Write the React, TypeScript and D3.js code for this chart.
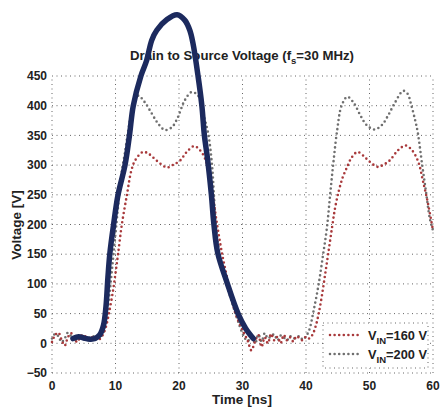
import React from 'react';
import * as d3 from 'd3';

// time [ns], voltage [V]
const vin160: [number, number][] = [
  [0, 2], [0.5, 14], [1, 18], [1.5, 6], [2, -4], [2.5, 10], [3, 17], [3.5, 8], [4, 2], [4.5, 12],
  [5, 14], [5.5, 8], [6, 6], [6.5, 12], [7, 10], [7.5, 7], [8, 14], [8.5, 28], [9, 52], [9.6, 88],
  [10, 118], [10.4, 150], [11, 200], [11.8, 250], [12.5, 291], [13.1, 308], [14.3, 322], [15.1, 320],
  [15.9, 313], [17, 303], [18.1, 296], [19, 300], [20.2, 308], [21.2, 322], [22.4, 332], [23.3, 325],
  [24.1, 311], [24.7, 285], [25.3, 250], [26, 200], [26.8, 150], [27.8, 100], [28.9, 50], [30.1, 20],
  [30.8, 5], [31.4, -12], [32, 4], [32.5, 14], [33, -6], [33.5, 10], [34, 0], [34.5, 16], [35, 5],
  [35.5, 11], [36, 0], [36.5, 14], [37, 5], [37.5, 10], [38, 3], [38.5, 12], [39, 8], [39.5, 5],
  [40, 11], [40.5, 8], [41, 14], [41.5, 28], [42, 50], [42.5, 80], [43, 115], [43.5, 151], [44.1, 195],
  [44.6, 229], [45.2, 258], [45.8, 280], [46.4, 295], [47.2, 313], [48.1, 322], [49, 316], [50.1, 305],
  [51.3, 297], [52.1, 300], [53.2, 308], [54.5, 325], [55.7, 333], [56.7, 325], [57.7, 305],
  [58.4, 274], [59.2, 236], [60, 190],
];

const vin200: [number, number][] = [
  [0, 8], [0.5, 16], [1, 12], [1.5, 2], [2, 8], [2.5, 18], [3, 12], [3.5, 3], [4, 10], [4.5, 14],
  [5, 10], [5.5, 6], [6, 10], [6.5, 12], [7, 9], [7.5, 10], [8, 16], [8.5, 36], [9, 78], [9.5, 130],
  [10, 185], [10.5, 240], [11, 290], [11.5, 322], [12, 358], [12.5, 388], [13.1, 409], [13.6, 417],
  [14.6, 406], [15.7, 387], [16.7, 370], [17.8, 359], [18.9, 364], [19.8, 380], [20.9, 409], [22, 423],
  [23, 417], [23.8, 387], [24.6, 353], [25.2, 300], [25.5, 250], [25.8, 200], [26.4, 150], [27.5, 100],
  [28.9, 50], [30.2, 12], [30.8, 4], [31.5, 10], [32, 0], [32.5, 15], [33, 3], [33.5, 17], [34, 8],
  [34.5, 12], [35, 15], [35.5, 5], [36, 13], [36.5, 10], [37, 5], [37.5, 12], [38, 8], [38.5, 10],
  [39, 12], [39.5, 6], [40, 12], [40.5, 22], [41.2, 55], [42, 100], [42.7, 150], [43.3, 195],
  [43.8, 250], [44.3, 303], [44.9, 358], [45.6, 400], [46.5, 415], [47.5, 405], [48.5, 385],
  [49.5, 368], [50.8, 360], [52, 368], [53, 385], [54, 405], [55.3, 425], [56, 420], [56.6, 400],
  [57.2, 375], [57.6, 355], [58.3, 300], [58.9, 255], [59.5, 210], [60, 190],
];

// hand drawn overlay stroke
const sketch: [number, number][] = [
  [3.3, 8], [4.2, 11], [5, 9], [6, 7], [6.8, 8], [7.5, 14], [8.1, 30], [8.5, 62], [8.8, 110],
  [9.1, 150], [9.7, 200], [10.4, 250], [11.5, 300], [12.2, 350], [12.8, 400], [14.0, 450],
  [14.9, 476], [15.7, 510], [16.5, 527], [18.1, 545], [19.7, 553], [20.9, 544], [21.7, 527],
  [22.2, 505], [23, 450], [23.6, 400], [24.0, 350], [24.5, 310], [25.1, 250], [25.5, 200],
  [26.1, 152], [27.6, 101], [29.3, 50], [30.5, 25], [31.7, 8],
];

const xTicks = [0, 10, 20, 30, 40, 50, 60];
const yTicks = [-50, 0, 50, 100, 150, 200, 250, 300, 350, 400, 450];
const legendItems = [
  { sub: 'IN', value: '=160 V', color: '#a8393b', data: vin160 },
  { sub: 'IN', value: '=200 V', color: '#6f6f6f', data: vin200 },
];

const W = 440;
const H = 408;
const font = '"Liberation Sans", Arial, Helvetica, sans-serif';

export default function App() {
  const x = d3.scaleLinear().domain([0, 60]).range([52, 433]);
  const y = d3.scaleLinear().domain([-50, 450]).range([373, 76]);

  const line = d3
    .line<[number, number]>()
    .x(d => x(d[0]))
    .y(d => y(d[1]))
    .curve(d3.curveCatmullRom.alpha(0.5));

  const gridStyle = { stroke: '#555', strokeWidth: 0.9, strokeDasharray: '1 3.5' };

  // legend box
  const lx0 = 323, lx1 = 428, ly0 = 323, ly1 = 368;

  return (
    <svg
      width={W}
      height={H}
      style={{ position: 'absolute', left: 0, top: 0, background: '#fff' }}
      fontFamily={font}
      fontWeight="bold"
    >
      {/* grid */}
      {xTicks.map(t => (
        <line key={'gx' + t} x1={x(t)} x2={x(t)} y1={y(-50)} y2={y(450)} {...gridStyle} />
      ))}
      {yTicks.map(v => (
        <line key={'gy' + v} x1={x(0)} x2={x(60)} y1={y(v)} y2={y(v)} {...gridStyle} />
      ))}

      {/* tick labels */}
      {yTicks.map(v => (
        <text key={'ty' + v} x={x(0) - 5} y={y(v)} dy="0.35em" textAnchor="end" fontSize={12} fill="#222">
          {v < 0 ? '\u2212' + Math.abs(v) : v}
        </text>
      ))}
      {xTicks.map(t => (
        <text key={'tx' + t} x={x(t)} y={390} textAnchor="middle" fontSize={12} fill="#222">
          {t}
        </text>
      ))}

      {/* axis labels and title */}
      <text x={242} y={404} textAnchor="middle" fontSize={13.5} fill="#222">Time [ns]</text>
      <text transform="translate(21,225) rotate(-90)" textAnchor="middle" fontSize={13.5} fill="#222">
        Voltage [V]
      </text>
      <text x={242} y={60} textAnchor="middle" fontSize={13.2} fill="#222">
        Drain to Source Voltage (f<tspan fontSize={9.5} dy={4}>s</tspan>
        <tspan dy={-4}>=30 MHz)</tspan>
      </text>

      {/* dotted series */}
      {legendItems.slice().reverse().map(s => (
        <path
          key={s.value}
          d={line(s.data) ?? ''}
          fill="none"
          stroke={s.color}
          strokeWidth={2.6}
          strokeLinecap="round"
          strokeDasharray="0 4.6"
        />
      ))}

      {/* legend */}
      <rect x={lx0} y={ly0} width={lx1 - lx0} height={ly1 - ly0} fill="#fff" {...gridStyle} />
      {legendItems.map((s, i) => {
        const ly = 335 + i * 19;
        return (
          <g key={'lg' + i}>
            <line
              x1={330}
              x2={362}
              y1={ly}
              y2={ly}
              stroke={s.color}
              strokeWidth={2.6}
              strokeLinecap="round"
              strokeDasharray="0 4.6"
            />
            <text x={368} y={ly + 4.5} fontSize={12.8} fill="#222">
              V<tspan fontSize={9.5} dy={4}>{s.sub}</tspan>
              <tspan dy={-4}>{s.value}</tspan>
            </text>
          </g>
        );
      })}

      {/* hand drawn stroke on top */}
      <path
        d={line(sketch) ?? ''}
        fill="none"
        stroke="#1c2a5e"
        strokeWidth={5.5}
        strokeLinecap="round"
        strokeLinejoin="round"
      />
    </svg>
  );
}
